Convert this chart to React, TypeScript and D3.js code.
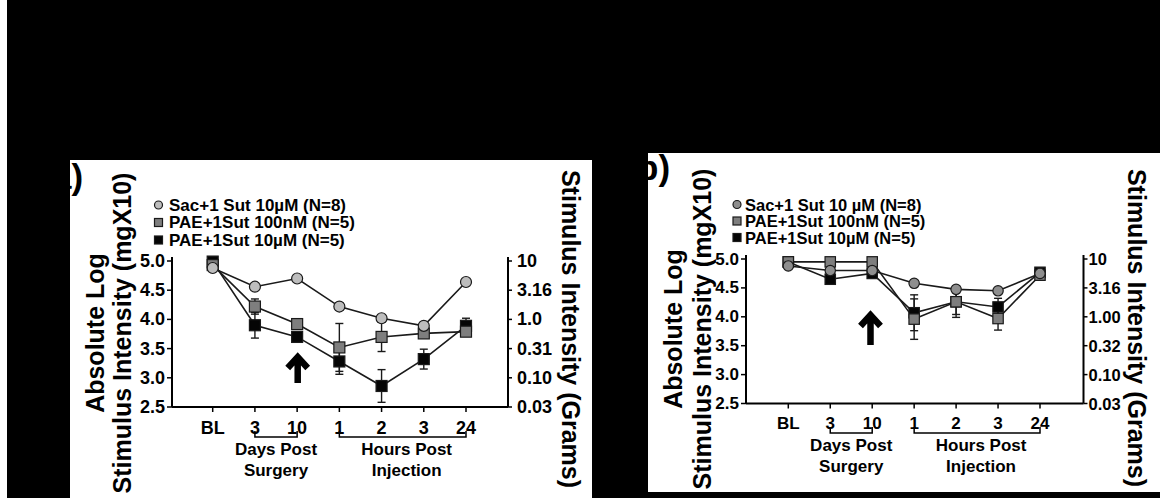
import React from "react";
import * as d3 from "d3";

// ---------- data ----------
const categories = ["BL", "3", "10", "1", "2", "3", "24"];
const yTicks = [2.5, 3.0, 3.5, 4.0, 4.5, 5.0];
const yTickLabels = ["2.5", "3.0", "3.5", "4.0", "4.5", "5.0"];
const gramLabelsA = ["0.03", "0.10", "0.31", "1.0", "3.16", "10"];
const gramLabelsB = ["0.03", "0.10", "0.32", "1.00", "3.16", "10"];
const legendA = ["Sac+1 Sut 10\u00b5M (N=8)", "PAE+1Sut 100nM (N=5)", "PAE+1Sut 10\u00b5M (N=5)"];
const legendB = ["Sac+1 Sut 10 \u00b5M (N=8)", "PAE+1Sut 100nM (N=5)", "PAE+1Sut 10\u00b5M (N=5)"];

// panel a
const aSac = [4.88, 4.56, 4.70, 4.22, 4.02, 3.89, 4.64];
const aSacErr = [0.02, 0.06, 0.03, 0.06, 0.04, 0.04, 0.03];
const aP100 = [4.93, 4.22, 3.92, 3.52, 3.70, 3.76, 3.79];
const aP100Err = [0.02, 0.13, 0.07, 0.41, 0.25, 0.04, 0.05];
const aP10 = [4.99, 3.90, 3.70, 3.28, 2.86, 3.32, 3.89];
const aP10Err = [0.02, 0.22, 0.04, 0.22, 0.28, 0.17, 0.13];

// panel b
const bSac = [4.88, 4.80, 4.80, 4.58, 4.475, 4.45, 4.75];
const bSacErr = [0.02, 0.03, 0.03, 0.03, 0.03, 0.03, 0.03];
const bP100 = [4.95, 4.95, 4.95, 3.96, 4.26, 3.97, 4.72];
const bP100Err = [0.02, 0.03, 0.03, 0.35, 0.27, 0.2, 0.04];
const bP10 = [4.95, 4.65, 4.75, 4.07, 4.26, 4.17, 4.77];
const bP10Err = [0.02, 0.03, 0.03, 0.31, 0.22, 0.15, 0.04];

const FONT = "'Liberation Sans', Arial, Helvetica, sans-serif";

type Series = { vals: number[]; errs: number[]; shape: "circle" | "square"; fill: string };

type Cfg = {
  letter: string;
  letterX: number;
  letterY: number;
  x0: number; x1: number; axL: number; axR: number; yTop: number; yBot: number;
  series: Series[];
  gramLabels: string[];
  legend: string[];
  legendMarkX: number; legendTextX: number; legendYs: number[];
  tickFont: number; gramFont: number; gramOffset: number; legendFont: number;
  tickLabelY: number; bracketY: number; groupY1: number; groupY2: number;
  titleX1: number; titleX2: number; titleXR: number; titleY: number; titleYR: number;
  arrowTip: number; arrowBottom: number; arrowX: number;
  mr: number;
};

function Marker({ x, y, s }: { x: number; y: number; s: Series & { r: number } }) {
  if (s.shape === "circle") {
    return <circle cx={x} cy={y} r={s.r} fill={s.fill} stroke="#1a1a1a" strokeWidth={1.2} />;
  }
  const h = s.r;
  return <rect x={x - h} y={y - h} width={2 * h} height={2 * h} fill={s.fill} stroke="#1a1a1a" strokeWidth={1.2} />;
}

function Panel({ c }: { c: Cfg }) {
  const idx = categories.map((_, i) => String(i));
  const x = d3.scalePoint<string>().domain(idx).range([c.x0, c.x1]);
  const y = d3.scaleLinear().domain([2.5, 5.0]).range([c.yBot, c.yTop]);
  const line = d3.line<number>().x((_, i) => x(String(i)) as number).y((v) => y(v));
  const drawOrder = [2, 1, 0];
  const xb = (i: number) => x(String(i)) as number;
  const hoursMid = (xb(3) + xb(6)) / 2;
  const daysMid = (xb(1) + xb(2)) / 2;
  return (
    <g fontFamily={FONT} fontWeight="bold" fill="#000">
      <text x={c.letterX} y={c.letterY} fontSize={35} fontWeight="bold">{c.letter}</text>
      {/* axes */}
      <line x1={c.axL} x2={c.axL} y1={c.yTop - 4} y2={c.yBot} stroke="#000" strokeWidth={2} />
      <line x1={c.axR} x2={c.axR} y1={c.yTop - 4} y2={c.yBot} stroke="#000" strokeWidth={2} />
      <line x1={c.axL} x2={c.axR} y1={c.yBot} y2={c.yBot} stroke="#000" strokeWidth={2} />
      {yTicks.map((t, i) => (
        <g key={"yt" + i}>
          <line x1={c.axL - 5} x2={c.axL} y1={y(t)} y2={y(t)} stroke="#000" strokeWidth={1.5} />
          <text x={c.axL - 7} y={y(t)} textAnchor="end" dominantBaseline="central" fontSize={c.tickFont}>{yTickLabels[i]}</text>
          <line x1={c.axR} x2={c.axR + 4} y1={y(t)} y2={y(t)} stroke="#000" strokeWidth={1.5} />
          <text x={c.axR + c.gramOffset} y={y(t)} dominantBaseline="central" fontSize={c.gramFont}>{c.gramLabels[i]}</text>
        </g>
      ))}
      {categories.map((cat, i) => (
        <g key={"xt" + i}>
          <line x1={xb(i)} x2={xb(i)} y1={c.yBot} y2={c.yBot + 5} stroke="#000" strokeWidth={1.5} />
          <text x={xb(i)} y={c.tickLabelY} textAnchor="middle" dominantBaseline="central" fontSize={c.tickFont}>{cat}</text>
        </g>
      ))}
      {/* brackets */}
      <path d={`M${xb(1)},${c.bracketY - 6}V${c.bracketY}H${xb(2)}V${c.bracketY - 6}`} fill="none" stroke="#000" strokeWidth={1.5} />
      <path d={`M${xb(3)},${c.bracketY - 6}V${c.bracketY}H${xb(6)}V${c.bracketY - 6}`} fill="none" stroke="#000" strokeWidth={1.5} />
      <text x={daysMid} y={c.groupY1} textAnchor="middle" dominantBaseline="central" fontSize={17}>Days Post</text>
      <text x={daysMid} y={c.groupY2} textAnchor="middle" dominantBaseline="central" fontSize={17}>Surgery</text>
      <text x={hoursMid + 4} y={c.groupY1} textAnchor="middle" dominantBaseline="central" fontSize={17}>Hours Post</text>
      <text x={hoursMid + 4} y={c.groupY2} textAnchor="middle" dominantBaseline="central" fontSize={17}>Injection</text>
      {/* titles */}
      <text transform={`translate(${c.titleX1},${c.titleY}) rotate(-90)`} textAnchor="middle" dominantBaseline="central" fontSize={25}>Absolute Log</text>
      <text transform={`translate(${c.titleX2},${c.titleY}) rotate(-90)`} textAnchor="middle" dominantBaseline="central" fontSize={25}>Stimulus Intensity (mgX10)</text>
      <text transform={`translate(${c.titleXR},${c.titleYR}) rotate(90)`} textAnchor="middle" dominantBaseline="central" fontSize={25}>Stimulus Intensity (Grams)</text>
      {/* legend */}
      {c.legend.map((l, i) => (
        <g key={"lg" + i}>
          <Marker x={c.legendMarkX} y={c.legendYs[i]} s={{ ...c.series[i], r: 4 }} />
          <text x={c.legendTextX} y={c.legendYs[i]} dominantBaseline="central" fontSize={c.legendFont}>{l}</text>
        </g>
      ))}
      {/* lines */}
      {drawOrder.map((k) => (
        <path key={"ln" + k} d={line(c.series[k].vals) as string} fill="none" stroke="#1a1a1a" strokeWidth={1.6} />
      ))}
      {/* error bars */}
      {drawOrder.map((k) =>
        c.series[k].vals.map((v, i) => {
          const e = c.series[k].errs[i];
          const cx = xb(i);
          return (
            <g key={"eb" + k + "-" + i} stroke="#1a1a1a" strokeWidth={1.4}>
              <line x1={cx} x2={cx} y1={y(v - e)} y2={y(v + e)} />
              <line x1={cx - 4} x2={cx + 4} y1={y(v - e)} y2={y(v - e)} />
              <line x1={cx - 4} x2={cx + 4} y1={y(v + e)} y2={y(v + e)} />
            </g>
          );
        })
      )}
      {/* markers */}
      {drawOrder.map((k) =>
        c.series[k].vals.map((v, i) => (
          <Marker key={"mk" + k + "-" + i} x={xb(i)} y={y(v)} s={{ ...c.series[k], r: c.mr }} />
        ))
      )}
      {/* arrow */}
      <path
        d={`M${c.arrowX},${c.arrowTip + 3}V${c.arrowBottom}M${c.arrowX - 10},${c.arrowTip + 14}L${c.arrowX},${c.arrowTip + 3}L${c.arrowX + 10},${c.arrowTip + 14}`}
        fill="none" stroke="#000" strokeWidth={6.5} strokeLinejoin="miter" strokeLinecap="butt"
      />
    </g>
  );
}

const cfgA: Cfg = {
  letter: "a)", letterX: 52, letterY: 189,
  x0: 212.7, x1: 466, axL: 172, axR: 508, yTop: 261, yBot: 407,
  series: [
    { vals: aSac, errs: aSacErr, shape: "circle", fill: "#bdbdbd" },
    { vals: aP100, errs: aP100Err, shape: "square", fill: "#7e7e7e" },
    { vals: aP10, errs: aP10Err, shape: "square", fill: "#050505" },
  ],
  gramLabels: gramLabelsA, legend: legendA,
  legendMarkX: 158.5, legendTextX: 169, legendYs: [205, 222.5, 240],
  tickFont: 18, gramFont: 18, gramOffset: 9, legendFont: 17,
  tickLabelY: 428, bracketY: 437, groupY1: 449, groupY2: 470,
  titleX1: 95, titleX2: 122, titleXR: 571, titleY: 333, titleYR: 329,
  arrowTip: 354, arrowBottom: 383, arrowX: 297.7, mr: 5.5,
};

const cfgB: Cfg = {
  letter: "b)", letterX: 637, letterY: 180,
  x0: 788.3, x1: 1040, axL: 746, axR: 1083.5, yTop: 259, yBot: 403.5,
  series: [
    { vals: bSac, errs: bSacErr, shape: "circle", fill: "#8e8e8e" },
    { vals: bP100, errs: bP100Err, shape: "square", fill: "#7e7e7e" },
    { vals: bP10, errs: bP10Err, shape: "square", fill: "#050505" },
  ],
  gramLabels: gramLabelsB, legend: legendB,
  legendMarkX: 737, legendTextX: 745, legendYs: [204.5, 221, 237.5],
  tickFont: 17, gramFont: 16.5, gramOffset: 5, legendFont: 16.5,
  tickLabelY: 423.5, bracketY: 433, groupY1: 445, groupY2: 466,
  titleX1: 673, titleX2: 702, titleXR: 1137, titleY: 329, titleYR: 328,
  arrowTip: 312, arrowBottom: 345, arrowX: 870.5, mr: 5.2,
};

export default function App() {
  return (
    <>
      <style>{`body{margin:0;padding:0;background:#fff}`}</style>
      <svg width={1173} height={498} viewBox="0 0 1173 498" style={{ display: "block" }}>
        <rect x={0} y={0} width={1173} height={498} fill="#fff" />
        <rect x={7} y={0} width={1153} height={498} fill="#000" />
        <rect x={70} y={160} width={522} height={338} fill="#fff" />
        <rect x={648} y={153} width={525} height={339} fill="#fff" />
        <Panel c={cfgA} />
        <Panel c={cfgB} />
      </svg>
    </>
  );
}
